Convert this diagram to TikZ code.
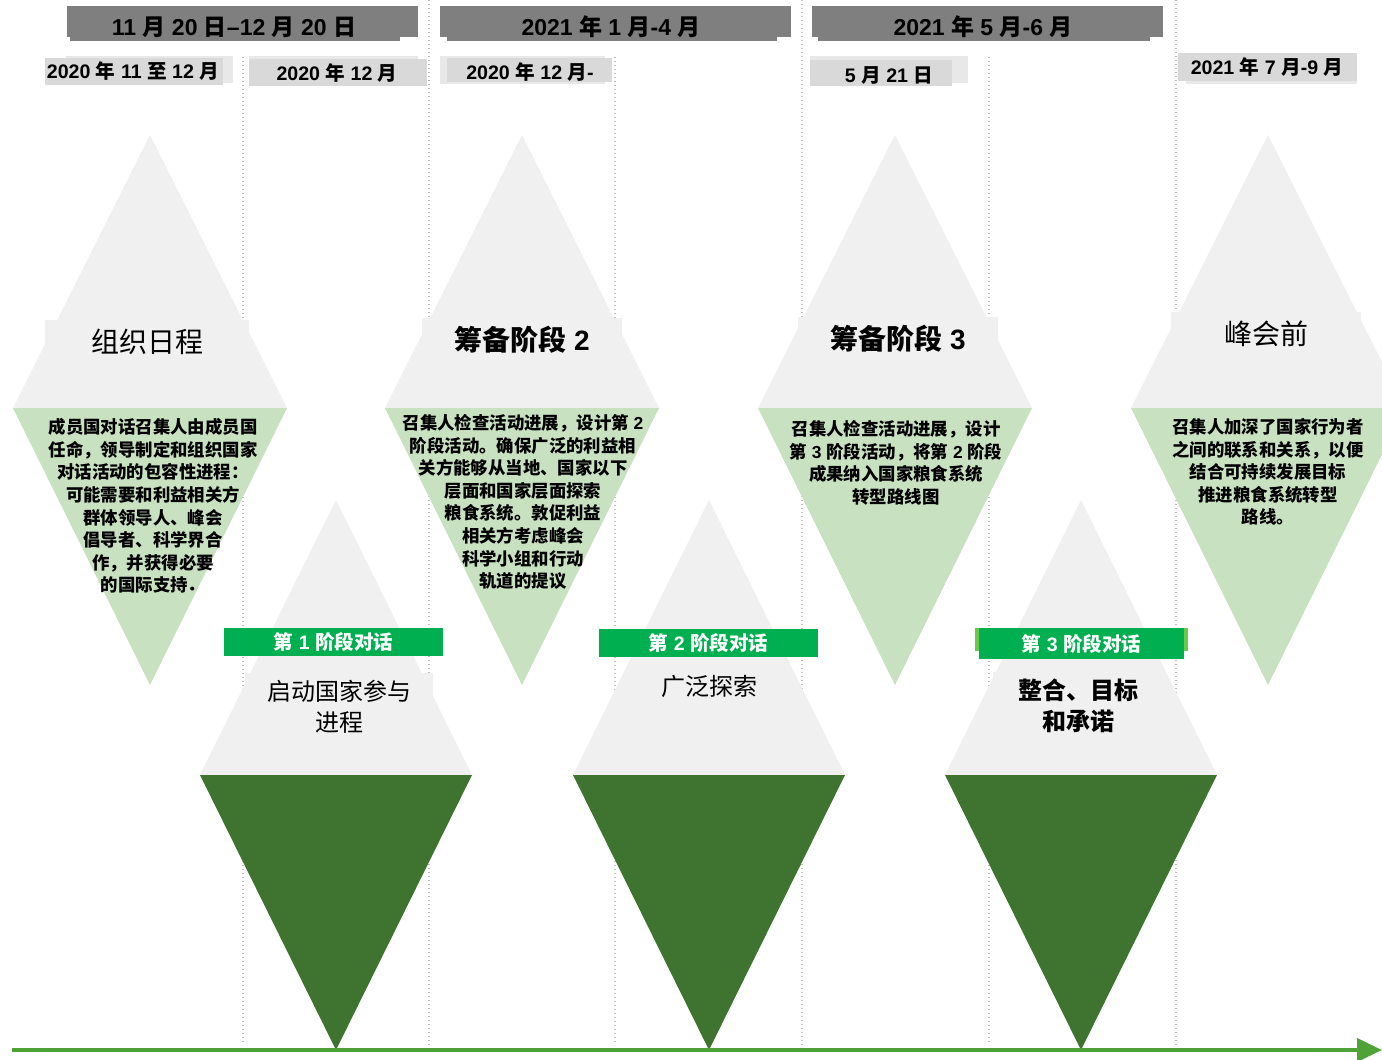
\documentclass[tikz,border=0pt]{standalone}
\usepackage{fontspec}
\setmainfont{Liberation Sans}
\newfontfamily\cjkf{Noto Sans CJK SC}
\usetikzlibrary{arrows.meta}
\XeTeXinterchartokenstate=1
\chardef\CJKcls=7
\newcount\cjkc
\cjkc="2E80
\loop\XeTeXcharclass\cjkc=\CJKcls\advance\cjkc by 1\relax\ifnum\cjkc<"A000 \repeat
\cjkc="FF00
\loop\XeTeXcharclass\cjkc=\CJKcls\advance\cjkc by 1\relax\ifnum\cjkc<"FFF0 \repeat
\XeTeXinterchartoks 0 \CJKcls={\begingroup\cjkf}
\XeTeXinterchartoks 4095 \CJKcls={\begingroup\cjkf}
\XeTeXinterchartoks \CJKcls 0={\endgroup}
\XeTeXinterchartoks \CJKcls 4095={\endgroup}
\definecolor{lgray}{HTML}{F0F0F0}
\definecolor{lgreen}{HTML}{C8E1C1}
\definecolor{dgreen}{HTML}{3F7430}
\definecolor{hgray}{HTML}{7F7F7F}
\definecolor{sgray}{HTML}{D9D9D9}
\definecolor{sgrayl}{HTML}{E8E8E8}
\definecolor{bargreen}{HTML}{00B050}
\definecolor{barlight}{HTML}{6CC84A}
\definecolor{axgreen}{HTML}{4FA336}
\definecolor{sepgray}{HTML}{BFBFBF}
\begin{document}
\begin{tikzpicture}[x=1pt,y=-1pt,
  sep/.style={draw=sepgray, line width=1.4pt, dash pattern=on 1.4pt off 2.6pt},
  hdr/.style={inner sep=0pt, font=\bfseries\fontsize{23}{26}\selectfont},
  sub/.style={inner sep=0pt, font=\bfseries\fontsize{19.6}{22}\selectfont},
  desc/.style={inner sep=0pt, align=center, font=\bfseries\fontsize{17.4}{22.6}\selectfont},
  ttl/.style={inner sep=0pt, fill=lgray, align=center, font=\fontsize{28}{32}\selectfont},
  lttl/.style={inner sep=0pt, fill=lgray, align=center, font=\fontsize{24}{31}\selectfont},
  gbar/.style={fill=bargreen, inner sep=0pt, text=white, font=\bfseries\fontsize{19.5}{22}\selectfont},
]
\useasboundingbox (0,0) rectangle (1382,1060);
\fill[white] (0,0) rectangle (1382,1060);
% dotted separators
\foreach \x/\y in {243/57,429/0,615/57,802/0,989/57,1176/0}
  \draw[sep] (\x,\y) -- (\x,1045);
% upper diamonds
\foreach \c in {150,522,895,1268}{
  \fill[lgray] (\c,135) -- (\c+137,408) -- (\c-137,408) -- cycle;
  \fill[lgreen] (\c-137,408) -- (\c+137,408) -- (\c,685) -- cycle;
}
% lower diamonds
\foreach \c in {336,709,1081}{
  \fill[lgray] (\c,500) -- (\c+136,775) -- (\c-136,775) -- cycle;
  \fill[dgreen] (\c-136,775) -- (\c+136,775) -- (\c,1050) -- cycle;
}
% header bars
\fill[hgray] (67,6) rectangle (418,37);  \fill[hgray] (70,37) rectangle (400,41);
\fill[hgray] (440,6) rectangle (791,37); \fill[hgray] (447,37) rectangle (777,41);
\fill[hgray] (812,6) rectangle (1163,37); \fill[hgray] (818,37) rectangle (1150,41);
\node[hdr] (h1) at (234,27) {11 月 20 日–12 月 20 日};
\node[hdr] (h2) at (611,27) {2021 年 1 月-4 月};
\node[hdr] (h3) at (983,27) {2021 年 5 月-6 月};
% sub labels
\fill[sgrayl] (66,56) rectangle (233,83);  \fill[sgray] (45,58) rectangle (223,85);
\fill[sgrayl] (249,56) rectangle (418,62); \fill[sgray] (249,59) rectangle (427,86);
\fill[sgrayl] (440,56) rectangle (605,84); \fill[sgray] (447,58) rectangle (612,82);
\fill[sgrayl] (810,56) rectangle (968,83); \fill[sgray] (810,60) rectangle (952,86);
\fill[sgrayl] (1186,57) rectangle (1357,84); \fill[sgray] (1178,53) rectangle (1357,81);
\node[sub] (s1) at (133,71) {2020 年 11 至 12 月};
\node[sub] (s2) at (337,73) {2020 年 12 月};
\node[sub] (s3) at (530,72) {2020 年 12 月-};
\node[sub] (s4) at (889,75) {5 月 21 日};
\node[sub] (s5) at (1267,67) {2021 年 7 月-9 月};
% titles of upper diamonds
\node[ttl, minimum width=204pt, minimum height=44pt] (t1) at (147,342) {组织日程};
\node[ttl, minimum width=200pt, minimum height=44pt, font=\bfseries\fontsize{28}{32}\selectfont] (t2) at (522,340) {筹备阶段 2};
\node[ttl, minimum width=200pt, minimum height=44pt, font=\bfseries\fontsize{28}{32}\selectfont] (t3) at (898,339) {筹备阶段 3};
\node[ttl, minimum width=190pt, minimum height=44pt] (t4) at (1266,334) {峰会前};
% descriptions
\node[desc] (d1) at (153,506) {成员国对话召集人由成员国\\任命，领导制定和组织国家\\对话活动的包容性进程：\\可能需要和利益相关方\\群体领导人、峰会\\倡导者、科学界合\\作，并获得必要\\的国际支持．};
\node[desc] (d2) at (523,502) {召集人检查活动进展，设计第 2\\阶段活动。确保广泛的利益相\\关方能够从当地、国家以下\\层面和国家层面探索\\粮食系统。敦促利益\\相关方考虑峰会\\科学小组和行动\\轨道的提议};
\node[desc] (d3) at (896,463) {召集人检查活动进展，设计\\第 3 阶段活动，将第 2 阶段\\成果纳入国家粮食系统\\转型路线图};
\node[desc] (d4) at (1268,472) {召集人加深了国家行为者\\之间的联系和关系，以便\\结合可持续发展目标\\推进粮食系统转型\\路线。};
% green bars
\node[gbar, minimum width=219pt, minimum height=28pt] (g1) at (333.5,642) {第 1 阶段对话};
\node[gbar, minimum width=219pt, minimum height=28pt] (g2) at (708.5,642.5) {第 2 阶段对话};
\fill[barlight] (975,628) rectangle (1188,651);
\node[gbar, minimum width=205pt, minimum height=31pt] (g3) at (1081.5,643.5) {第 3 阶段对话};
% lower titles
\node[lttl, minimum width=188pt, minimum height=68pt] (l1) at (339,707) {启动国家参与\\进程};
\node[lttl, minimum width=160pt, minimum height=36pt] (l2) at (709,686) {广泛探索};
\node[lttl, minimum width=170pt, minimum height=68pt, font=\bfseries\fontsize{24}{31}\selectfont] (l3) at (1078,706) {整合、目标\\和承诺};
% time axis
\coordinate (axS) at (12,1050);
\coordinate (axE) at (1382,1050);
\draw[axgreen, line width=4pt, -{Triangle[length=25pt,width=23pt]}] (axS) -- (axE);
\end{tikzpicture}
\end{document}
